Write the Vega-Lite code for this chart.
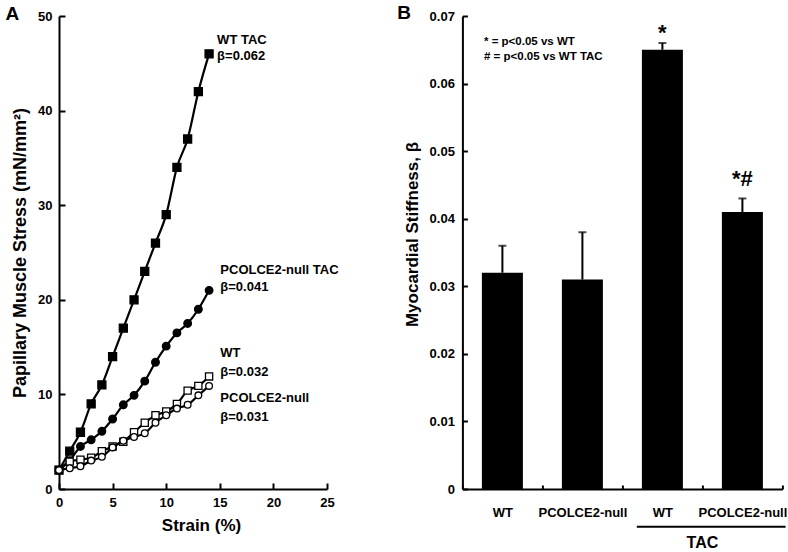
{
  "$schema": "https://vega.github.io/schema/vega-lite/v6.json",
  "padding": {"left": 5, "top": 4, "right": 0, "bottom": 0},
  "background": "white",
  "config": {
    "font": "Liberation Sans",
    "view": {"stroke": null},
    "axis": {
      "domainColor": "black", "domainWidth": 2, "tickColor": "black", "tickWidth": 2,
      "labelColor": "black", "labelFont": "Liberation Sans", "labelFontWeight": "bold", "labelFontSize": 13,
      "titleFont": "Liberation Sans", "titleFontWeight": "bold", "titleColor": "black", "grid": false, "labelFlush": false
    },
    "text": {"font": "Liberation Sans", "fontWeight": "bold", "color": "black"}
  },
  "datasets": {
    "curves": [
      {"series": "WT TAC", "strain": 0, "stress": 2}, {"series": "WT TAC", "strain": 1, "stress": 4}, {"series": "WT TAC", "strain": 2, "stress": 6}, {"series": "WT TAC", "strain": 3, "stress": 9}, {"series": "WT TAC", "strain": 4, "stress": 11}, {"series": "WT TAC", "strain": 5, "stress": 14}, {"series": "WT TAC", "strain": 6, "stress": 17}, {"series": "WT TAC", "strain": 7, "stress": 20}, {"series": "WT TAC", "strain": 8, "stress": 23}, {"series": "WT TAC", "strain": 9, "stress": 26}, {"series": "WT TAC", "strain": 10, "stress": 29}, {"series": "WT TAC", "strain": 11, "stress": 34}, {"series": "WT TAC", "strain": 12, "stress": 37}, {"series": "WT TAC", "strain": 13, "stress": 42}, {"series": "WT TAC", "strain": 14, "stress": 46},
      {"series": "PCOLCE2-null TAC", "strain": 0, "stress": 2}, {"series": "PCOLCE2-null TAC", "strain": 1, "stress": 3.0}, {"series": "PCOLCE2-null TAC", "strain": 2, "stress": 4.5}, {"series": "PCOLCE2-null TAC", "strain": 3, "stress": 5.2}, {"series": "PCOLCE2-null TAC", "strain": 4, "stress": 6.1}, {"series": "PCOLCE2-null TAC", "strain": 5, "stress": 7.4}, {"series": "PCOLCE2-null TAC", "strain": 6, "stress": 8.9}, {"series": "PCOLCE2-null TAC", "strain": 7, "stress": 9.9}, {"series": "PCOLCE2-null TAC", "strain": 8, "stress": 11.4}, {"series": "PCOLCE2-null TAC", "strain": 9, "stress": 13.4}, {"series": "PCOLCE2-null TAC", "strain": 10, "stress": 15.1}, {"series": "PCOLCE2-null TAC", "strain": 11, "stress": 16.5}, {"series": "PCOLCE2-null TAC", "strain": 12, "stress": 17.5}, {"series": "PCOLCE2-null TAC", "strain": 13, "stress": 19.0}, {"series": "PCOLCE2-null TAC", "strain": 14, "stress": 21.0},
      {"series": "WT", "strain": 0, "stress": 2}, {"series": "WT", "strain": 1, "stress": 2.9}, {"series": "WT", "strain": 2, "stress": 3.1}, {"series": "WT", "strain": 3, "stress": 3.3}, {"series": "WT", "strain": 4, "stress": 4.0}, {"series": "WT", "strain": 5, "stress": 4.5}, {"series": "WT", "strain": 6, "stress": 5.0}, {"series": "WT", "strain": 7, "stress": 6.0}, {"series": "WT", "strain": 8, "stress": 7.0}, {"series": "WT", "strain": 9, "stress": 7.8}, {"series": "WT", "strain": 10, "stress": 8.2}, {"series": "WT", "strain": 11, "stress": 9.0}, {"series": "WT", "strain": 12, "stress": 10.4}, {"series": "WT", "strain": 13, "stress": 10.9}, {"series": "WT", "strain": 14, "stress": 11.9},
      {"series": "PCOLCE2-null", "strain": 0, "stress": 2}, {"series": "PCOLCE2-null", "strain": 1, "stress": 2.2}, {"series": "PCOLCE2-null", "strain": 2, "stress": 2.4}, {"series": "PCOLCE2-null", "strain": 3, "stress": 3.0}, {"series": "PCOLCE2-null", "strain": 4, "stress": 3.4}, {"series": "PCOLCE2-null", "strain": 5, "stress": 4.4}, {"series": "PCOLCE2-null", "strain": 6, "stress": 5.1}, {"series": "PCOLCE2-null", "strain": 7, "stress": 5.5}, {"series": "PCOLCE2-null", "strain": 8, "stress": 5.9}, {"series": "PCOLCE2-null", "strain": 9, "stress": 7.0}, {"series": "PCOLCE2-null", "strain": 10, "stress": 7.8}, {"series": "PCOLCE2-null", "strain": 11, "stress": 8.5}, {"series": "PCOLCE2-null", "strain": 12, "stress": 8.9}, {"series": "PCOLCE2-null", "strain": 13, "stress": 9.9}, {"series": "PCOLCE2-null", "strain": 14, "stress": 10.9}
    ],
    "labelsA": [
      {"x": 14.75, "y": 47.5, "text": "WT TAC"},
      {"x": 14.75, "y": 45.8, "text": "β=0.062"},
      {"x": 15.05, "y": 23.15, "text": "PCOLCE2-null TAC"},
      {"x": 15.05, "y": 21.4, "text": "β=0.041"},
      {"x": 15.05, "y": 14.35, "text": "WT"},
      {"x": 15.05, "y": 12.4, "text": "β=0.032"},
      {"x": 15.05, "y": 9.6, "text": "PCOLCE2-null"},
      {"x": 15.05, "y": 7.65, "text": "β=0.031"}
    ],
    "panelA": [{"x": -4.36, "y": 50.26, "text": "A"}],
    "bars": [
      {"group": "WT", "mean": 0.032, "upper": 0.036},
      {"group": "PCOLCE2-null", "mean": 0.031, "upper": 0.038},
      {"group": "WT TAC", "mean": 0.065, "upper": 0.066},
      {"group": "PCOLCE2-null TAC", "mean": 0.041, "upper": 0.043}
    ],
    "stars": [
      {"group": "WT TAC", "y": 0.0665, "text": "*"},
      {"group": "PCOLCE2-null TAC", "y": 0.0448, "text": "*#"}
    ],
    "notes": [
      {"group": "WT", "y": 0.0661, "text": "* = p<0.05 vs WT"},
      {"group": "WT", "y": 0.0640, "text": "# = p<0.05 vs WT TAC"}
    ],
    "panelB": [{"group": "WT", "y": 0.0704, "text": "B"}],
    "tac": [{"from": "WT TAC", "to": "PCOLCE2-null TAC", "y": -0.00558, "ly": -0.0080, "text": "TAC"}]
  },
  "spacing": 135.4,
  "bounds": "flush",
  "hconcat": [
    {
      "width": 268,
      "height": 473,
      "layer": [
        {
          "data": {"name": "curves"},
          "mark": {"type": "line", "interpolate": "monotone", "color": "black", "strokeWidth": 2.2},
          "encoding": {
            "x": {"field": "strain", "type": "quantitative", "scale": {"domain": [0, 25], "nice": false},
              "axis": {"values": [0, 5, 10, 15, 20, 25], "tickSize": -6, "labelPadding": 13, "title": "Strain (%)", "titleFontSize": 17, "titlePadding": 8, "titleX": 142}},
            "y": {"field": "stress", "type": "quantitative", "scale": {"domain": [0, 50], "nice": false},
              "axis": {"values": [0, 10, 20, 30, 40, 50], "tickSize": -6, "labelPadding": 13, "title": "Papillary Muscle Stress (mN/mm²)", "titleFontSize": 18, "titlePadding": 8}},
            "detail": {"field": "series"}
          }
        },
        {
          "data": {"name": "curves"},
          "mark": {"type": "point", "stroke": "black", "strokeWidth": 1.3, "opacity": 1},
          "encoding": {
            "x": {"field": "strain", "type": "quantitative"},
            "y": {"field": "stress", "type": "quantitative"},
            "shape": {"field": "series", "type": "nominal", "scale": {"domain": ["WT TAC", "PCOLCE2-null TAC", "WT", "PCOLCE2-null"], "range": ["square", "circle", "square", "circle"]}, "legend": null},
            "fill": {"field": "series", "type": "nominal", "scale": {"domain": ["WT TAC", "PCOLCE2-null TAC", "WT", "PCOLCE2-null"], "range": ["black", "black", "white", "white"]}, "legend": null},
            "size": {"field": "series", "type": "nominal", "scale": {"domain": ["WT TAC", "PCOLCE2-null TAC", "WT", "PCOLCE2-null"], "range": [64, 45, 60, 45]}, "legend": null}
          }
        },
        {
          "data": {"name": "labelsA"},
          "mark": {"type": "text", "align": "left", "baseline": "middle", "fontSize": 13},
          "encoding": {
            "x": {"field": "x", "type": "quantitative"},
            "y": {"field": "y", "type": "quantitative"},
            "text": {"field": "text"}
          }
        },
        {
          "data": {"name": "panelA"},
          "mark": {"type": "text", "align": "center", "baseline": "middle", "fontSize": 19},
          "encoding": {
            "x": {"field": "x", "type": "quantitative"},
            "y": {"field": "y", "type": "quantitative"},
            "text": {"field": "text"}
          }
        }
      ]
    },
    {
      "width": 320,
      "height": 473,
      "layer": [
        {
          "data": {"name": "bars"},
          "mark": {"type": "bar", "color": "black", "size": 41},
          "encoding": {
            "x": {"field": "group", "type": "nominal", "sort": null,
              "scale": {"domain": ["WT", "PCOLCE2-null", "WT TAC", "PCOLCE2-null TAC"], "paddingInner": 0, "paddingOuter": 0},
              "axis": {"title": null, "labelAngle": 0, "tickBand": "extent", "tickSize": -4, "labelPadding": 21, "labelFontSize": 13, "labelExpr": "replace(datum.label, ' TAC', '')"}},
            "y": {"field": "mean", "type": "quantitative", "scale": {"domain": [0, 0.07], "nice": false},
              "axis": {"values": [0, 0.01, 0.02, 0.03, 0.04, 0.05, 0.06, 0.07], "format": "~g", "tickSize": -5, "labelPadding": 13, "title": "Myocardial  Stiffness, β", "titleFontSize": 17, "titlePadding": 8, "titleY": 218}}
          }
        },
        {
          "data": {"name": "bars"},
          "mark": {"type": "rule", "color": "black", "strokeWidth": 2},
          "encoding": {
            "x": {"field": "group", "type": "nominal"},
            "y": {"field": "mean", "type": "quantitative"},
            "y2": {"field": "upper"}
          }
        },
        {
          "data": {"name": "bars"},
          "mark": {"type": "tick", "color": "black", "size": 8, "thickness": 2, "orient": "horizontal"},
          "encoding": {
            "x": {"field": "group", "type": "nominal"},
            "y": {"field": "upper", "type": "quantitative"}
          }
        },
        {
          "data": {"name": "stars"},
          "mark": {"type": "text", "align": "center", "baseline": "alphabetic", "fontSize": 22},
          "encoding": {
            "x": {"field": "group", "type": "nominal"},
            "y": {"field": "y", "type": "quantitative"},
            "text": {"field": "text"}
          }
        },
        {
          "data": {"name": "notes"},
          "mark": {"type": "text", "align": "left", "baseline": "middle", "fontSize": 11.5},
          "encoding": {
            "x": {"field": "group", "type": "nominal", "bandPosition": 0.27},
            "y": {"field": "y", "type": "quantitative"},
            "text": {"field": "text"}
          }
        },
        {
          "data": {"name": "panelB"},
          "mark": {"type": "text", "align": "center", "baseline": "middle", "fontSize": 19},
          "encoding": {
            "x": {"field": "group", "type": "nominal", "bandPosition": -0.73},
            "y": {"field": "y", "type": "quantitative"},
            "text": {"field": "text"}
          }
        },
        {
          "data": {"name": "tac"},
          "mark": {"type": "rule", "color": "black", "strokeWidth": 2},
          "encoding": {
            "x": {"field": "from", "type": "nominal", "bandPosition": 0.18},
            "x2": {"field": "to", "bandPosition": 1.04},
            "y": {"field": "y", "type": "quantitative"}
          }
        },
        {
          "data": {"name": "tac"},
          "mark": {"type": "text", "align": "center", "baseline": "middle", "fontSize": 16},
          "encoding": {
            "x": {"field": "from", "type": "nominal", "bandPosition": 1},
            "y": {"field": "ly", "type": "quantitative"},
            "text": {"field": "text"}
          }
        }
      ]
    }
  ]
}
